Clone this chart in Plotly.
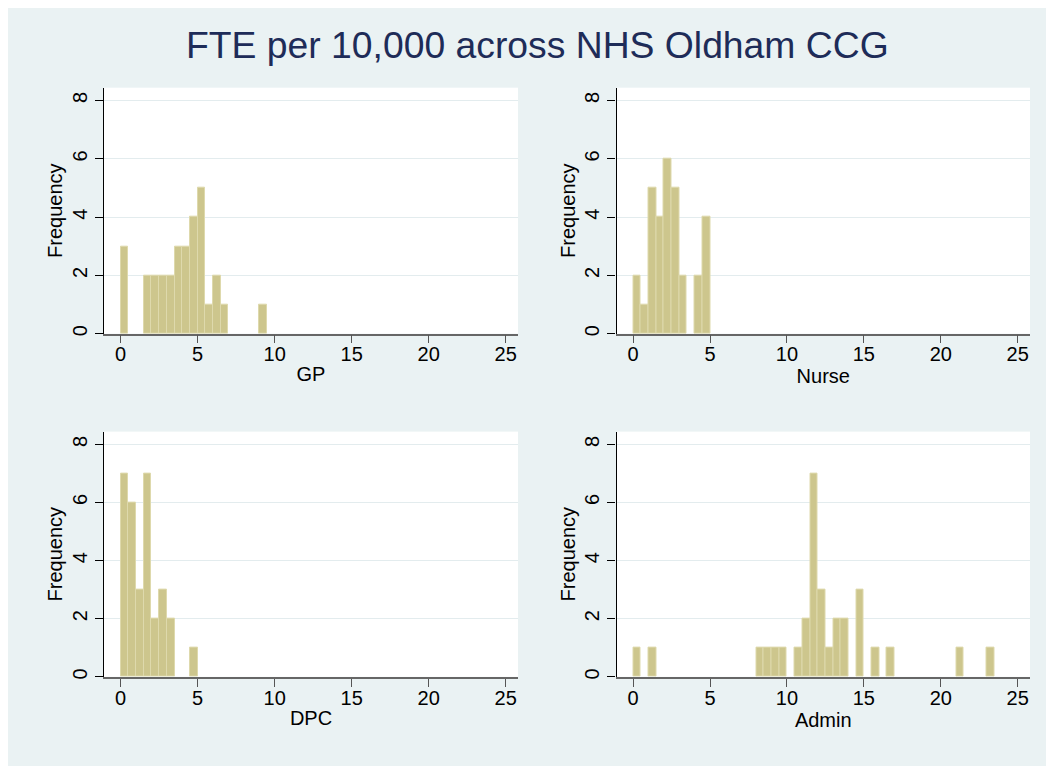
import plotly.graph_objects as go

# histogram bins (left edge, width 0.5) and frequencies
gp_bins = [0, 1.5, 2, 2.5, 3, 3.5, 4, 4.5, 5, 5.5, 6, 6.5, 9]
gp_freq = [3, 2, 2, 2, 2, 3, 3, 4, 5, 1, 2, 1, 1]

nurse_bins = [0, 0.5, 1, 1.5, 2, 2.5, 3, 4, 4.5]
nurse_freq = [2, 1, 5, 4, 6, 5, 2, 2, 4]

dpc_bins = [0, 0.5, 1, 1.5, 2, 2.5, 3, 4.5]
dpc_freq = [7, 6, 3, 7, 2, 3, 2, 1]

admin_bins = [0, 1, 8, 8.5, 9, 9.5, 10.5, 11, 11.5, 12, 12.5, 13, 13.5, 14.5, 15.5, 16.5, 21, 23]
admin_freq = [1, 1, 1, 1, 1, 1, 1, 2, 7, 3, 1, 2, 2, 3, 1, 1, 1, 1]

panel_names = ['GP', 'Nurse', 'DPC', 'Admin']
y_ticks = [0, 2, 4, 6, 8]
x_ticks = [0, 5, 10, 15, 20, 25]

# page body adds an 8px margin, so the figure fills the rest of the window
W, H = 1046, 758
BG = '#EAF2F3'
BAR = '#CDC68D'
BAR_EDGE = '#DED9AC'
FONT = 'Liberation Sans, Arial, sans-serif'
TXT = 20

panels = [
  (gp_bins, gp_freq, (96, 510), (80, 327)),
  (nurse_bins, nurse_freq, (608.5, 1022), (80, 327)),
  (dpc_bins, dpc_freq, (96, 510), (425.3, 671.5)),
  (admin_bins, admin_freq, (608.5, 1022), (425.3, 671.5)),
]

fig = go.Figure()
layout = dict()
for i, (bins, freq, (x0, x1), (y0, y1)) in enumerate(panels):
  n = '' if i == 0 else str(i + 1)
  fig.add_trace(go.Bar(
      x=bins, y=freq, width=0.5, offset=0,
      xaxis='x' + n, yaxis='y' + n,
      marker=dict(color=BAR, line=dict(color=BAR_EDGE, width=1)),
      showlegend=False, hoverinfo='x+y'))
  layout['xaxis' + n] = dict(
      domain=[x0 / W, x1 / W], anchor='y' + n, range=[-1.08, 25.8],
      tickvals=x_ticks, ticks='outside', ticklen=8, tickcolor='#555',
      ticklabelstandoff=-6,
      showline=True, linecolor='#666', linewidth=1.5,
      showgrid=False, zeroline=False,
      tickfont=dict(size=TXT, color='black'),
      title=dict(text=panel_names[i], font=dict(size=TXT, color='black'), standoff=3))
  layout['yaxis' + n] = dict(
      domain=[1 - y1 / H, 1 - y0 / H], anchor='x' + n, range=[0, 8.44],
      tickvals=y_ticks, ticks='outside', ticklen=8, tickcolor='black',
      tickangle=-90, showline=True, linecolor='black', linewidth=1.2,
      showgrid=True, gridcolor='#E3ECEE', gridwidth=1.2, zeroline=False,
      tickfont=dict(size=TXT, color='black'),
      title=dict(text='Frequency', font=dict(size=TXT, color='black'), standoff=0))

fig.update_layout(**layout)
fig.update_layout(
    width=W, height=H,
    margin=dict(l=0, r=0, t=0, b=0),
    paper_bgcolor=BG, plot_bgcolor='white',
    font=dict(family=FONT, color='black'),
    bargap=0,
    annotations=[dict(
        text='FTE per 10,000 across NHS Oldham CCG', xref='paper', yref='paper',
        x=529 / W, y=1 - 37 / H, xanchor='center', yanchor='middle', showarrow=False,
        font=dict(size=37.3, color='#1E2C58', family=FONT))],
)

fig.write_html('out.html')
